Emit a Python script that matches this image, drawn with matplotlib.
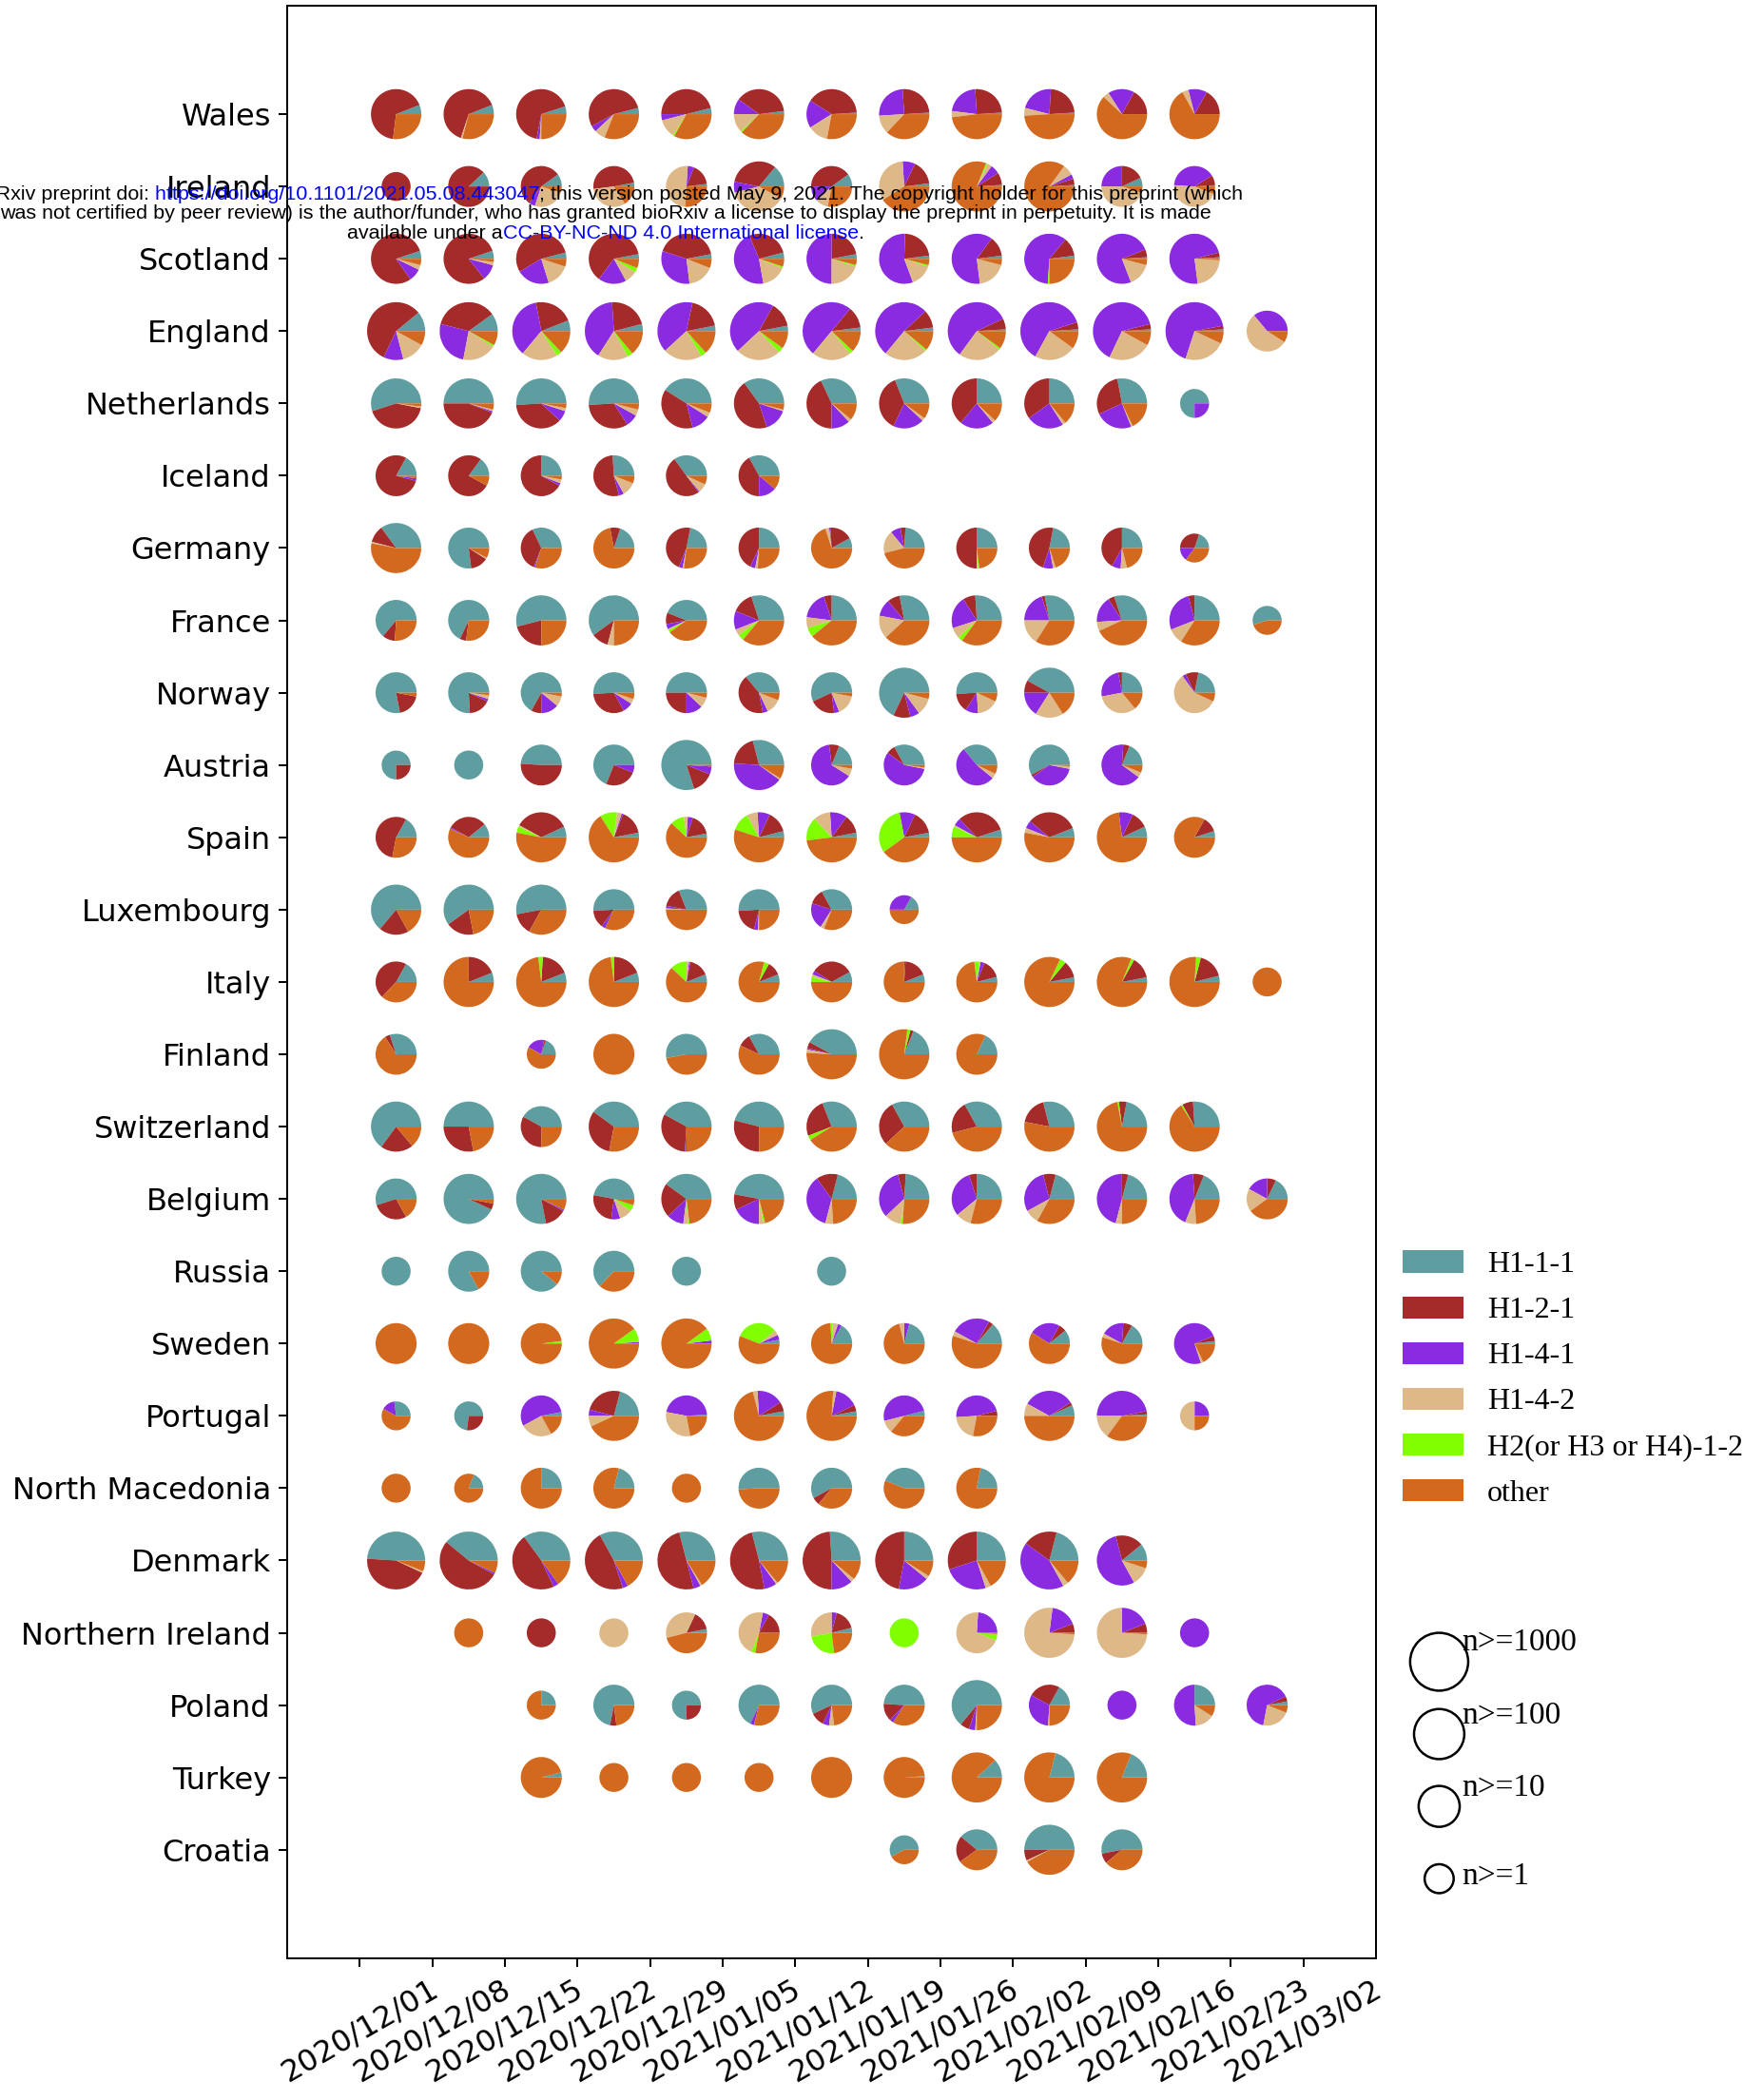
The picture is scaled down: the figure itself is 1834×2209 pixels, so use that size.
import numpy as np
import matplotlib.pyplot as plt
from matplotlib.patches import Patch, Circle

# rader (uppifrån) och veckor
countries = ['Wales', 'Ireland', 'Scotland', 'England', 'Netherlands', 'Iceland',
             'Germany', 'France', 'Norway', 'Austria', 'Spain', 'Luxembourg',
             'Italy', 'Finland', 'Switzerland', 'Belgium', 'Russia', 'Sweden',
             'Portugal', 'North Macedonia', 'Denmark', 'Northern Ireland',
             'Poland', 'Turkey', 'Croatia']
weeks = ['2020/12/01', '2020/12/08', '2020/12/15', '2020/12/22', '2020/12/29',
         '2021/01/05', '2021/01/12', '2021/01/19', '2021/01/26', '2021/02/02',
         '2021/02/09', '2021/02/16', '2021/02/23', '2021/03/02']
lineages = ['H1-1-1', 'H1-2-1', 'H1-4-1', 'H1-4-2', 'H2(or H3 or H4)-1-2', 'other']
colors = ['cadetblue', 'brown', 'blueviolet', 'burlywood', 'chartreuse', 'chocolate']

# andelar (%) per vecka i ordningen ovan, None = inga prov
# *_n = storleksklass (n>=1, 10, 100, 1000)
wales = [[6, 67, 0, 0, 0, 27], [6, 64, 0, 1, 0, 29], [5, 67, 2, 1, 0, 25],
         [4, 54, 4, 7, 0, 31], [4, 46, 4, 12, 1, 33], [2, 38, 10, 12, 1, 37],
         [1, 40, 18, 13, 0, 28], [1, 25, 25, 12, 0, 37], [1, 25, 22, 4, 0, 48],
         [1, 23, 22, 5, 0, 49], [0, 17, 17, 4, 0, 62], [0, 17, 12, 4, 0, 67]]
wales_n = [100, 100, 100, 100, 100, 100, 100, 100, 100, 100, 100, 100]

ireland = [[0, 100, 0, 0, 0, 0], [12, 88, 0, 0, 0, 0], [10, 55, 5, 25, 0, 5],
           [3, 49, 0, 32, 0, 16], [2, 17, 5, 50, 0, 26], [14, 33, 7, 38, 0, 8],
           [10, 40, 12, 10, 0, 28], [2, 16, 8, 33, 0, 41], [1, 8, 6, 3, 1, 81],
           [1, 4, 3, 7, 0, 85], [7, 18, 25, 45, 0, 5], [1, 8, 40, 45, 0, 6]]
ireland_n = [1, 10, 10, 10, 10, 100, 10, 100, 100, 100, 10, 10]

scotland = [[5, 78, 8, 3, 0, 4], [5, 78, 10, 2, 0, 2], [4, 54, 21, 15, 0, 5],
            [3, 62, 18, 8, 3, 6], [3, 42, 32, 17, 0, 6], [4, 27, 46, 16, 1, 5],
            [3, 22, 50, 20, 1, 4], [2, 22, 55, 14, 1, 4], [2, 13, 62, 19, 0, 4],
            [2, 12, 60, 0, 1, 25], [1, 5, 74, 15, 0, 4], [1, 3, 73, 22, 0, 1]]
scotland_n = [100, 100, 100, 100, 100, 100, 100, 100, 100, 100, 100, 100]

england = [[11, 57, 11, 13, 0, 8], [10, 36, 26, 19, 1, 8], [6, 22, 36, 20, 3, 13],
           [4, 22, 40, 17, 3, 14], [3, 18, 39, 21, 3, 13], [3, 14, 45, 25, 3, 10],
           [2, 12, 50, 22, 2, 12], [2, 10, 52, 24, 1, 11], [1, 6, 58, 24, 1, 10],
           [1, 4, 62, 23, 0, 10], [1, 3, 64, 24, 0, 8], [1, 2, 67, 23, 0, 7],
           [0, 0, 36, 55, 0, 9]]
england_n = [1000, 1000, 1000, 1000, 1000, 1000, 1000, 1000, 1000, 1000, 1000, 1000, 10]

netherlands = [[55, 42, 0, 1, 0, 2], [50, 44, 1, 1, 0, 4], [51, 37, 7, 2, 0, 3],
               [51, 33, 8, 4, 0, 4], [41, 38, 12, 3, 0, 6], [35, 45, 15, 1, 0, 4],
               [32, 43, 12, 2, 0, 11], [31, 37, 20, 2, 0, 10], [25, 39, 22, 2, 0, 12],
               [25, 35, 24, 2, 0, 14], [28, 29, 24, 1, 0, 18], [75, 0, 25, 0, 0, 0]]
netherlands_n = [100, 100, 100, 100, 100, 100, 100, 100, 100, 100, 100, 1]

iceland = [[17, 79, 2, 0, 0, 2], [15, 77, 0, 0, 0, 8], [25, 67, 2, 3, 0, 3],
           [26, 53, 4, 11, 0, 6], [35, 50, 1, 7, 0, 7], [33, 42, 14, 0, 0, 11]]
iceland_n = [10, 10, 10, 10, 10, 10]

germany = [[35, 11, 0, 1, 0, 53], [77, 14, 0, 1, 0, 8], [32, 37, 1, 0, 0, 30],
           [20, 8, 0, 0, 0, 72], [22, 47, 3, 1, 0, 27], [25, 43, 4, 2, 0, 26],
           [8, 18, 1, 3, 0, 70], [24, 4, 8, 18, 0, 46], [25, 50, 0, 1, 1, 23],
           [22, 48, 8, 2, 0, 20], [25, 42, 7, 5, 0, 21], [20, 30, 15, 0, 0, 35]]
germany_n = [100, 10, 10, 10, 10, 10, 10, 10, 10, 10, 10, 1]

france = [[64, 10, 0, 0, 0, 26], [68, 5, 0, 0, 0, 27], [54, 21, 0, 0, 0, 25],
          [60, 11, 0, 4, 0, 25], [44, 9, 4, 1, 2, 40], [30, 14, 12, 4, 4, 36],
          [25, 5, 18, 7, 6, 39], [28, 8, 11, 15, 0, 38], [26, 8, 21, 7, 3, 35],
          [28, 2, 20, 16, 0, 34], [30, 4, 17, 6, 0, 43], [25, 4, 27, 10, 0, 34],
          [55, 0, 0, 0, 0, 45]]
france_n = [10, 10, 100, 100, 10, 100, 100, 100, 100, 100, 100, 100, 1]

norway = [[78, 19, 0, 0, 0, 3], [76, 17, 2, 3, 0, 2], [67, 8, 14, 8, 0, 3],
          [51, 32, 8, 4, 0, 5], [50, 25, 13, 8, 0, 4], [36, 42, 4, 12, 0, 6],
          [57, 20, 4, 16, 0, 3], [68, 11, 6, 11, 0, 4], [51, 15, 10, 17, 0, 7],
          [42, 8, 16, 18, 0, 16], [25, 3, 25, 33, 0, 14], [22, 10, 3, 58, 0, 7]]
norway_n = [10, 10, 10, 10, 10, 10, 10, 100, 10, 100, 10, 10]

austria = [[75, 25, 0, 0, 0, 0], [100, 0, 0, 0, 0, 0], [49, 51, 0, 0, 0, 0],
           [69, 25, 6, 0, 0, 0], [80, 14, 5, 0, 0, 1], [29, 20, 41, 1, 0, 9],
           [19, 8, 64, 6, 0, 3], [33, 7, 57, 1, 0, 2], [36, 0, 53, 4, 0, 7],
           [58, 2, 37, 2, 0, 1], [19, 5, 66, 4, 0, 6]]
austria_n = [1, 1, 10, 10, 100, 100, 10, 10, 10, 10, 10]

spain = [[17, 55, 0, 0, 0, 28], [11, 31, 1, 0, 0, 57], [7, 35, 0, 1, 4, 53],
         [3, 16, 1, 3, 11, 66], [3, 17, 4, 3, 11, 62], [4, 14, 8, 7, 12, 55],
         [3, 12, 11, 11, 15, 48], [3, 15, 10, 0, 32, 40], [5, 32, 5, 1, 7, 50],
         [6, 33, 5, 3, 0, 53], [7, 11, 9, 0, 0, 73], [5, 12, 0, 0, 0, 83]]
spain_n = [10, 10, 100, 100, 10, 100, 100, 100, 100, 100, 100, 10]

luxembourg = [[64, 19, 0, 0, 0, 17], [60, 18, 0, 0, 0, 22], [53, 14, 0, 0, 0, 33],
              [51, 14, 3, 0, 0, 32], [31, 16, 2, 1, 0, 50], [51, 20, 3, 1, 0, 25],
              [33, 12, 21, 3, 0, 31], [17, 0, 33, 0, 0, 50]]
luxembourg_n = [100, 100, 100, 10, 10, 10, 10, 1]

italy = [[17, 46, 0, 0, 0, 37], [6, 19, 0, 0, 0, 75], [6, 18, 0, 0, 3, 73],
         [6, 19, 0, 0, 2, 73], [6, 16, 1, 2, 13, 62], [6, 11, 0, 0, 4, 79],
         [8, 33, 3, 2, 4, 50], [6, 18, 1, 0, 0, 75], [4, 15, 3, 1, 4, 73],
         [3, 11, 0, 0, 4, 82], [3, 14, 0, 0, 2, 81], [4, 17, 0, 0, 3, 76],
         [0, 0, 0, 0, 0, 100]]
italy_n = [10, 100, 100, 100, 10, 10, 10, 10, 10, 100, 100, 100, 1]

finland = [[30, 4, 0, 0, 0, 66], None, [20, 2, 20, 0, 0, 58],
           [0, 0, 0, 0, 0, 100], [53, 0, 0, 0, 0, 47], [33, 10, 0, 0, 0, 57],
           [42, 4, 1, 2, 0, 51], [19, 2, 0, 0, 2, 77], [18, 0, 0, 0, 0, 82]]
finland_n = [10, None, 1, 10, 10, 10, 100, 100, 10]

switzerland = [[65, 21, 0, 0, 0, 14], [50, 28, 0, 0, 0, 22], [42, 33, 0, 0, 0, 25],
               [40, 32, 0, 0, 0, 28], [42, 32, 1, 0, 0, 25], [46, 29, 0, 0, 0, 25],
               [31, 25, 0, 0, 3, 41], [33, 29, 0, 0, 0, 38], [33, 21, 0, 0, 0, 46],
               [29, 18, 0, 0, 0, 53], [22, 5, 0, 0, 1, 72], [26, 7, 0, 0, 1, 66]]
switzerland_n = [100, 100, 10, 100, 100, 100, 100, 100, 100, 100, 100, 100]

belgium = [[55, 28, 0, 0, 0, 17], [93, 4, 0, 0, 0, 3], [78, 14, 1, 0, 0, 7],
           [47, 26, 7, 10, 5, 5], [40, 22, 11, 3, 1, 23], [47, 10, 18, 3, 1, 21],
           [21, 14, 36, 5, 0, 24], [24, 5, 33, 11, 1, 26], [25, 5, 31, 10, 0, 29],
           [21, 8, 29, 9, 0, 33], [21, 4, 46, 4, 0, 25], [19, 7, 43, 7, 0, 24],
           [18, 7, 17, 18, 0, 40]]
belgium_n = [10, 100, 100, 10, 100, 100, 100, 100, 100, 100, 100, 100, 10]

russia = [[100, 0, 0, 0, 0, 0], [83, 0, 0, 0, 0, 17], [89, 0, 0, 0, 0, 11],
          [63, 0, 0, 0, 0, 37], [100, 0, 0, 0, 0, 0], None, [100, 0, 0, 0, 0, 0]]
russia_n = [1, 10, 10, 10, 1, None, 1]

sweden = [[0, 0, 0, 0, 0, 100], [0, 0, 0, 0, 0, 100], [0, 0, 0, 0, 2, 98],
          [0, 0, 1, 0, 9, 90], [0, 0, 2, 0, 8, 90], [3, 0, 4, 4, 33, 56],
          [17, 0, 3, 4, 2, 74], [21, 0, 4, 4, 0, 71], [14, 3, 25, 3, 0, 55],
          [11, 6, 24, 0, 0, 59], [17, 7, 18, 3, 0, 55], [2, 4, 74, 2, 0, 18]]
sweden_n = [10, 10, 10, 100, 100, 10, 10, 10, 100, 10, 10, 10]

portugal = [[27, 0, 15, 0, 0, 58], [73, 27, 0, 0, 0, 0], [3, 0, 55, 25, 0, 17],
            [21, 25, 4, 7, 0, 43], [1, 0, 46, 31, 0, 22], [3, 6, 17, 3, 0, 71],
            [3, 4, 15, 2, 0, 76], [4, 0, 50, 10, 0, 36], [0, 4, 47, 21, 0, 28],
            [7, 2, 33, 8, 0, 50], [1, 2, 47, 15, 0, 35], [0, 0, 25, 50, 0, 25]]
portugal_n = [1, 1, 10, 100, 10, 100, 100, 10, 10, 100, 100, 1]

north_macedonia = [[0, 0, 0, 0, 0, 100], [19, 0, 0, 0, 0, 81], [25, 0, 0, 0, 0, 75],
                   [21, 0, 0, 0, 0, 79], [0, 0, 0, 0, 0, 100], [51, 0, 0, 0, 0, 49],
                   [58, 6, 0, 0, 0, 36], [44, 0, 0, 0, 0, 56], [22, 0, 0, 0, 0, 78]]
north_macedonia_n = [1, 1, 10, 10, 1, 10, 10, 10, 10]

denmark = [[49, 44, 0, 1, 0, 6], [39, 53, 1, 0, 0, 7], [35, 47, 3, 0, 0, 15],
           [33, 47, 3, 0, 0, 17], [29, 50, 4, 1, 0, 16], [29, 49, 7, 1, 0, 14],
           [26, 49, 12, 2, 0, 11], [25, 47, 17, 2, 0, 9], [25, 30, 25, 3, 0, 17],
           [21, 19, 43, 3, 0, 14], [11, 18, 54, 12, 0, 5]]
denmark_n = [1000, 1000, 1000, 1000, 1000, 1000, 1000, 1000, 1000, 1000, 100]

northern_ireland = [None, [0, 0, 0, 0, 0, 100], [0, 100, 0, 0, 0, 0],
                    [0, 0, 0, 100, 0, 0], [3, 15, 0, 36, 0, 46], [0, 17, 5, 47, 3, 28],
                    [4, 17, 4, 28, 24, 23], [0, 0, 0, 0, 100, 0], [0, 0, 24, 70, 5, 1],
                    [0, 6, 17, 76, 0, 1], [0, 6, 19, 74, 0, 1], [0, 0, 100, 0, 0, 0]]
northern_ireland_n = [None, 1, 1, 1, 10, 10, 10, 1, 10, 100, 100, 1]

poland = [None, None, [25, 0, 0, 0, 0, 75], [72, 5, 0, 0, 0, 23],
          [75, 25, 0, 0, 0, 0], [68, 0, 3, 0, 0, 29], [57, 11, 5, 4, 0, 23],
          [49, 14, 3, 0, 0, 34], [64, 6, 4, 1, 0, 25], [17, 25, 32, 1, 0, 25],
          [0, 0, 100, 0, 0, 0], [25, 0, 51, 15, 0, 9], [3, 4, 65, 22, 0, 6]]
poland_n = [None, None, 1, 10, 1, 10, 10, 10, 100, 10, 1, 10, 10]

turkey = [None, None, [4, 0, 0, 0, 0, 96], [0, 0, 0, 0, 0, 100],
          [0, 0, 0, 0, 0, 100], [0, 0, 0, 0, 0, 100], [0, 0, 0, 0, 0, 100],
          [1, 0, 0, 0, 0, 99], [12, 0, 0, 0, 0, 88], [21, 0, 0, 0, 0, 79],
          [19, 0, 0, 0, 0, 81]]
turkey_n = [None, None, 10, 1, 1, 1, 10, 10, 100, 100, 100]

croatia = [None, None, None, None, None, None, None, [58, 0, 0, 0, 0, 42],
           [39, 21, 0, 0, 0, 40], [50, 7, 0, 1, 0, 42], [53, 8, 0, 0, 0, 39]]
croatia_n = [None, None, None, None, None, None, None, 1, 10, 100, 10]

size_n = [1000, 100, 10, 1]
size_labels = ['n>=1000', 'n>=100', 'n>=10', 'n>=1']

rows = [(wales, wales_n), (ireland, ireland_n), (scotland, scotland_n),
        (england, england_n), (netherlands, netherlands_n), (iceland, iceland_n),
        (germany, germany_n), (france, france_n), (norway, norway_n),
        (austria, austria_n), (spain, spain_n), (luxembourg, luxembourg_n),
        (italy, italy_n), (finland, finland_n), (switzerland, switzerland_n),
        (belgium, belgium_n), (russia, russia_n), (sweden, sweden_n),
        (portugal, portugal_n), (north_macedonia, north_macedonia_n),
        (denmark, denmark_n), (northern_ireland, northern_ireland_n),
        (poland, poland_n), (turkey, turkey_n), (croatia, croatia_n)]


def pie_radius(n):
    # radien växer med roten ur storleksklassen
    return 0.2 * np.sqrt(np.floor(np.log10(n)) + 1)


fig = plt.figure(figsize=(18.34, 22.09), dpi=100)
ax = fig.add_axes([0.1647, 0.0675, 0.6243, 0.9298])

nrows = len(countries)
for i, (shares, ns) in enumerate(rows):
    y = nrows - 1 - i
    for k, (s, n) in enumerate(zip(shares, ns)):
        if s is None:
            continue
        vals = [v for v in s if v > 0]
        cols = [c for v, c in zip(s, colors) if v > 0]
        ax.pie(vals, colors=cols, center=(k + 0.5, y), radius=pie_radius(n),
               frame=True)

ax.set_aspect('auto')
ax.set_xlim(-1, 14)
ax.set_ylim(-1.5, nrows + 0.5)
ax.set_xticks(range(len(weeks)))
ax.set_xticklabels(weeks, rotation=30, ha='center')
ax.set_yticks([nrows - 1 - i for i in range(nrows)])
ax.set_yticklabels(countries)
ax.tick_params(length=6.3, width=1.44, pad=6.0, labelsize=23)
for sp in ax.spines.values():
    sp.set_linewidth(1.44)

# färglegend
handles = [Patch(facecolor=c, label=l) for c, l in zip(colors, lineages)]
fig.legend(handles=handles, loc='upper left', bbox_to_anchor=(0.8042, 0.4045),
           frameon=False, prop={'family': 'Liberation Serif', 'size': 23},
           borderaxespad=0, borderpad=0, labelspacing=0.57,
           handlelength=2.0, handleheight=0.75, handletextpad=0.78)

# storlekslegend
circle_y = [2.6, 1.6, 0.6, -0.4]
text_y = [2.87, 1.85, 0.85, -0.37]
for n, lab, cy, ty in zip(size_n, size_labels, circle_y, text_y):
    ax.add_patch(Circle((14.87, cy), pie_radius(n), fill=False, edgecolor='black',
                        linewidth=1.8, clip_on=False))
    ax.text(15.18, ty, lab, fontsize=24, family='Liberation Serif',
            va='center', ha='left', clip_on=False)

# bioRxiv-vattenstämpel
W, H = fig.get_size_inches() * fig.dpi
renderer = fig.canvas.get_renderer()
wm_font = 'Liberation Sans'
line1 = [('bioRxiv preprint doi:', 'black'),
         (' https://doi.org/10.1101/2021.05.08.443047', 'blue'),
         ('; this version posted May 9, 2021. The copyright holder for this preprint (which', 'black')]
line2 = [('was not certified by peer review) is the author/funder, who has granted bioRxiv '
          'a license to display the preprint in perpetuity. It is made', 'black')]
line3 = [('available under a', 'black'),
         ('CC-BY-NC-ND 4.0 International license', 'blue'),
         ('.', 'black')]

probe = fig.text(0, 0, line2[0][0], fontsize=15, family=wm_font)
wm_size = 15 * 1275 / probe.get_window_extent(renderer).width
probe.remove()


def banner(parts, base_px, center_px=637):
    first = fig.text(0, 1 - base_px / H, parts[0][0], color=parts[0][1],
                     fontsize=wm_size, family=wm_font, va='baseline', zorder=10)
    last = first
    for s, c in parts[1:]:
        last = ax.annotate(s, xy=(1, 0), xycoords=last, va='bottom', color=c,
                           fontsize=wm_size, family=wm_font, zorder=10)
    x0 = first.get_window_extent(renderer).x0
    x1 = last.get_window_extent(renderer).x1
    first.set_x((center_px - (x1 - x0) / 2) / W)


banner(line1, 210.5)
banner(line2, 230.5)
banner(line3, 251)

fig.savefig('out.png', dpi=100)
